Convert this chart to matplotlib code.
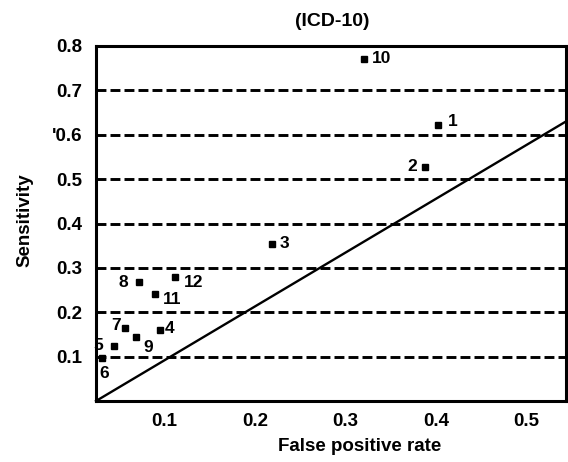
import matplotlib
matplotlib.use("Agg")
import matplotlib.pyplot as plt

# ---- data ----
study_ids = ["1", "2", "3", "4", "5", "6", "7", "8", "9", "10", "11", "12"]
false_pos = [0.402, 0.388, 0.219, 0.0945, 0.0438, 0.031, 0.0565, 0.0715, 0.0686, 0.321, 0.0889, 0.111]
sensitivity = [0.622, 0.528, 0.354, 0.159, 0.124, 0.098, 0.165, 0.269, 0.144, 0.770, 0.241, 0.279]

ref_line_x = [0.024, 0.544]
ref_line_y = [0.0, 0.63]

grid_levels = [0.1, 0.2, 0.3, 0.4, 0.5, 0.6, 0.7]
y_ticks = [0.1, 0.2, 0.3, 0.4, 0.5, 0.6, 0.7, 0.8]
y_tick_labels = ["0.1", "0.2", "0.3", "0.4", "0.5", "'0.6", "0.7", "0.8"]
x_ticks = [0.1, 0.2, 0.3, 0.4, 0.5]
x_tick_labels = ["0.1", "0.2", "0.3", "0.4", "0.5"]

title = "(ICD-10)"
x_label = "False positive rate"
y_label = "Sensitivity"

# label placement: (dx px, dy px up, horizontal alignment)
label_offsets = {
    "1": (10, 3, "left"), "2": (-8, 0, "right"), "3": (7, 0, "left"),
    "4": (5, 1.5, "left"), "5": (-11, 0, "right"), "6": (2.3, -15.7, "center"),
    "7": (-4, 2.3, "right"), "8": (-11, -0.7, "right"), "9": (6.6, -10, "left"),
    "10": (7.4, 0.7, "left"), "11": (8.3, -5.7, "left"), "12": (9.3, -5, "left"),
}

plt.rcParams['font.family'] = ['Liberation Sans', 'DejaVu Sans']

fig = plt.figure(figsize=(5.68, 4.62), dpi=100)
W, H = 568, 462
ax = fig.add_axes([96 / W, (H - 401) / H, 470 / W, 355 / H])

ax.set_xlim(0.024, 0.544)
ax.set_ylim(0.0, 0.8)

for g in grid_levels:
    ax.axhline(g, color="black", lw=2.1, dashes=(3.4, 1.4), zorder=1)

ax.plot(ref_line_x, ref_line_y, color="black", lw=1.7, zorder=2, clip_on=False)
ax.plot(false_pos, sensitivity, linestyle="none", marker="s", ms=3.8,
        color="black", zorder=3)

for sid, xv, yv in zip(study_ids, false_pos, sensitivity):
    dx, dy, ha = label_offsets[sid]
    ax.annotate(sid, (xv, yv), xytext=(dx, dy), textcoords="offset pixels",
                ha=ha, va="center", fontsize=12.5, fontweight="bold")

ax.set_xticks(x_ticks)
ax.set_xticklabels(x_tick_labels, fontsize=13.5, fontweight="bold")
ax.set_yticks(y_ticks)
ax.set_yticklabels(y_tick_labels, fontsize=13.5, fontweight="bold")
ax.tick_params(axis="both", length=0)
ax.tick_params(axis="y", pad=10)
ax.tick_params(axis="x", pad=8.5)

for sp in ax.spines.values():
    sp.set_linewidth(2.2)
    sp.set_color("black")

ax.text((359.5 - 96) / 470, (401 - 446.7) / 355, x_label, transform=ax.transAxes,
        ha="center", va="center", fontsize=13.5, fontweight="bold")
ax.text((25 - 96) / 470, (401 - 220) / 355, y_label, transform=ax.transAxes,
        ha="center", va="center", rotation=90, fontsize=13.5, fontweight="bold")
fig.text(332 / W, 1 - 21.7 / H, title, ha="center", va="center", fontsize=14,
         fontweight="bold")

fig.savefig("out.png", dpi=100)
